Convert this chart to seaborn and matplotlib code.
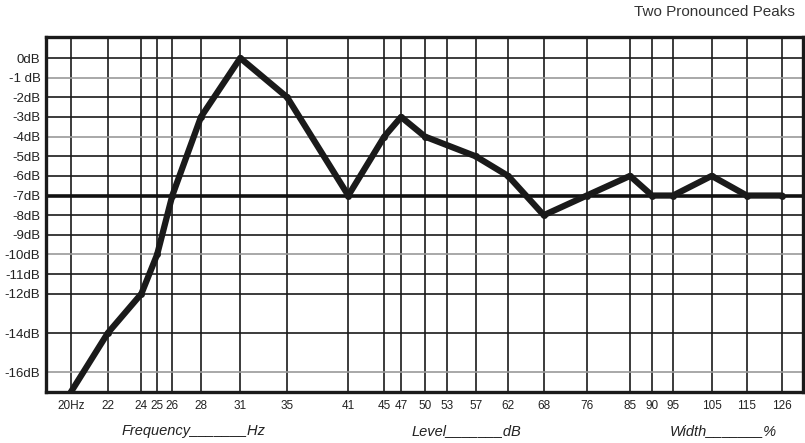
import matplotlib
matplotlib.use("Agg")
import matplotlib.pyplot as plt
import pandas as pd
import seaborn as sns

# response curve values
freq_hz = [20, 22, 24, 25, 26, 28, 31, 35, 41, 45, 47, 50, 57, 62, 68, 76, 85, 90, 95, 105, 115, 126]
level_db = [-17, -14, -12, -10, -7, -3, 0, -2, -7, -4, -3, -4, -5, -6, -8, -7, -6, -7, -7, -6, -7, -7]

x_ticks = [20, 22, 24, 25, 26, 28, 31, 35, 41, 45, 47, 50, 53, 57, 62, 68, 76, 85, 90, 95, 105, 115, 126]
x_tick_labels = ["20Hz"] + [str(v) for v in x_ticks[1:]]
y_ticks = [0, -1, -2, -3, -4, -5, -6, -7, -8, -9, -10, -11, -12, -14, -16]
y_tick_labels = ["0dB", "-1 dB"] + [f"{v}dB" for v in y_ticks[2:]]
gray_rows = [-1, -4, -10, -16]
reference_db = -7

df = pd.DataFrame({"freq": freq_hz, "level": level_db})

sns.set_theme(style="white")
plt.rcParams["font.family"] = ["Liberation Sans Narrow", "Liberation Sans", "DejaVu Sans"]

fig = plt.figure(figsize=(8.05, 4.43), dpi=100)
ax = fig.add_axes([46 / 805, 51 / 443, (803 - 46) / 805, (406 - 51) / 443])
ax.set_xscale("log")
ax.set_xlim(18.75, 133)
ax.set_ylim(-17, 1.07)

for v in x_ticks:
    ax.axvline(v, color="#1a1a1a", linewidth=1.2, zorder=1)
for v in y_ticks:
    col = "#9a9a9a" if v in gray_rows else "#1a1a1a"
    ax.axhline(v, color=col, linewidth=1.2, zorder=1)
ax.axhline(reference_db, color="#111111", linewidth=2.6, zorder=2)

sns.lineplot(data=df, x="freq", y="level", color="#1a1a1a", linewidth=4.5,
             marker="o", markersize=5, markeredgewidth=0, ax=ax, zorder=3)

ax.set_xticks(x_ticks)
ax.set_xticklabels(x_tick_labels)
ax.xaxis.set_minor_locator(matplotlib.ticker.NullLocator())
ax.set_yticks(y_ticks)
ax.set_yticklabels(y_tick_labels)
ax.tick_params(axis="both", length=0, colors="#222222")
ax.tick_params(axis="x", pad=6, labelsize=8.5)
ax.tick_params(axis="y", pad=4, labelsize=9.5)
ax.set_xlabel("")
ax.set_ylabel("")

for s in ax.spines.values():
    s.set_color("#1a1a1a")
    s.set_linewidth(2.4)

fig.text(795 / 805, 1 - 12 / 443, "Two Pronounced Peaks", ha="right", va="center",
         fontsize=11, color="#333333")
for xpix, txt in [(122, "Frequency_______Hz"), (412, "Level_______dB"), (670, "Width_______%")]:
    fig.text(xpix / 805, 1 - 431 / 443, txt, ha="left", va="center",
             fontsize=10.5, style="italic", color="#222222")

fig.savefig("out.png", dpi=100)
